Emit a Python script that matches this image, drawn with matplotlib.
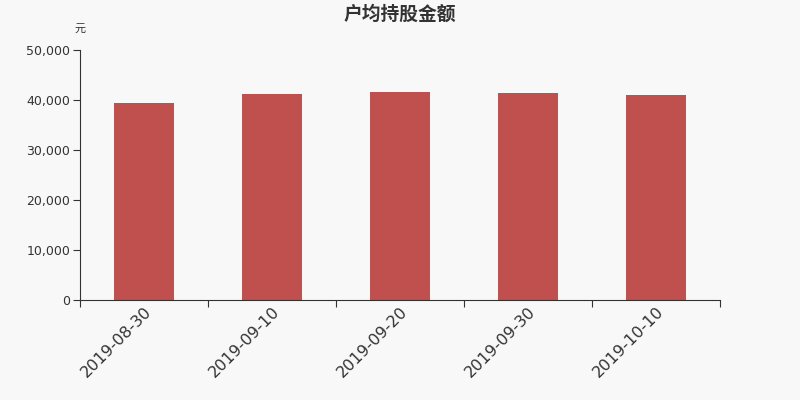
import matplotlib
matplotlib.use('Agg')
from matplotlib import pyplot as plt
from matplotlib.ticker import FuncFormatter
import numpy as np

plt.rcParams['font.family'] = ['Noto Sans CJK SC', 'DejaVu Sans']

dates = ['2019-08-30', '2019-09-10', '2019-09-20', '2019-09-30', '2019-10-10']
values = [39500, 41150, 41600, 41350, 41000]

bg = '#f8f8f8'
text_color = '#333333'

fig = plt.figure(figsize=(8, 4), dpi=100, facecolor=bg)
ax = fig.add_axes([0.1, 0.25, 0.8, 0.625], facecolor=bg)

x = np.arange(len(dates))
ax.bar(x, values, width=0.47, color='#c0504d')

ax.set_xlim(-0.5, len(dates) - 0.5)
ax.set_ylim(0, 50000)
ax.set_yticks(range(0, 50001, 10000))
ax.yaxis.set_major_formatter(FuncFormatter(lambda v, p: f'{int(v):,}'))
for lbl in ax.get_yticklabels():
    lbl.set_family('DejaVu Sans')

ax.set_xticks(np.arange(len(dates) + 1) - 0.5)
ax.set_xticklabels([])
ax.set_xticks(x, minor=True)
ax.set_xticklabels(dates, minor=True, rotation=45, ha='right',
                   rotation_mode='anchor', fontsize=11.5, color=text_color,
                   family='DejaVu Sans')
ax.tick_params(axis='x', which='minor', length=0, pad=3)
ax.tick_params(axis='x', which='major', length=5, color=text_color)
ax.tick_params(axis='y', length=5, pad=2, labelsize=9, labelcolor=text_color,
               color=text_color)

for s in ['top', 'right']:
    ax.spines[s].set_visible(False)
for s in ['left', 'bottom']:
    ax.spines[s].set_color(text_color)

fig.text(0.5, 0.965, '户均持股金额', ha='center', va='center', fontsize=13.5,
         fontweight='bold', color=text_color)
fig.text(0.1, 0.928, '元', ha='center', va='center', fontsize=8,
         color=text_color)

fig.savefig('out.png', dpi=100, facecolor=bg)
